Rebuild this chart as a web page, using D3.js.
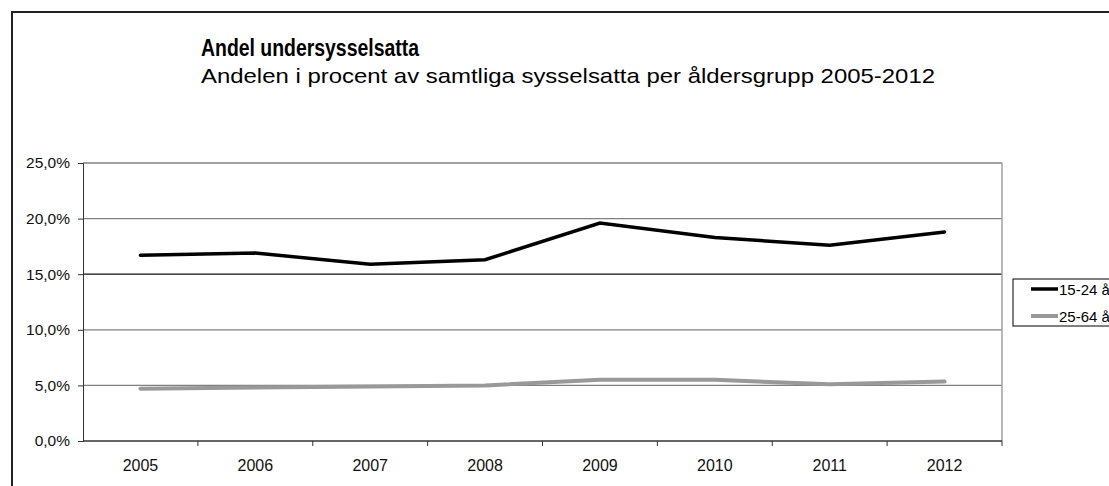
<!DOCTYPE html>
<html>
<head>
<meta charset="utf-8">
<script src="https://cdn.jsdelivr.net/npm/d3@7"></script>
<style>
  body { margin: 0; background: #fff; }
  svg text { font-family: "Liberation Sans", Arial, sans-serif; }
</style>
</head>
<body>
<div id="chart"></div>
<script>
var width = 1109, height = 486;

var years = ["2005", "2006", "2007", "2008", "2009", "2010", "2011", "2012"];
var young = [16.7, 16.9, 15.9, 16.3, 19.6, 18.3, 17.6, 18.8];
var adult = [4.7, 4.8, 4.9, 5.0, 5.5, 5.5, 5.1, 5.35];
var seriesNames = ["15-24 år", "25-64 år"];
var yTicks = [0, 5, 10, 15, 20, 25];

var svg = d3.select('#chart').append('svg')
	.attr('width', width)
	.attr('height', height);

// outer chart frame (runs off the page on the right and bottom)
svg.append('rect')
	.attr('x', 12).attr('y', 12)
	.attr('width', 1200).attr('height', 600)
	.attr('fill', '#fff')
	.attr('stroke', '#222')
	.attr('stroke-width', 2);

var plot = {left: 83, right: 1002, top: 163, bottom: 441};

var x = d3.scaleBand().domain(years).range([plot.left, plot.right]);
var y = d3.scaleLinear().domain([0, 25]).range([plot.bottom, plot.top]);

// gridlines
svg.selectAll('line.grid')
	.data(yTicks.filter(function(d) { return d > 0; }))
	.enter().append('line')
	.attr('class', 'grid')
	.attr('x1', plot.left).attr('x2', plot.right)
	.attr('y1', function(d) { return y(d); })
	.attr('y2', function(d) { return y(d); })
	.attr('stroke', function(d) { return d == 15 ? '#111' : '#808080'; })
	.attr('stroke-width', 1.3);

// right edge of plot area
svg.append('line')
	.attr('x1', plot.right).attr('x2', plot.right)
	.attr('y1', plot.top).attr('y2', plot.bottom)
	.attr('stroke', '#a0a0a0').attr('stroke-width', 1.5);

// y axis
var yAxis = d3.axisLeft(y)
	.tickValues(yTicks)
	.tickSize(5)
	.tickPadding(8)
	.tickFormat(function(d) { return d3.format('.1f')(d).replace('.', ',') + '%'; });

svg.append('g')
	.attr('transform', 'translate(' + plot.left + ',0)')
	.call(yAxis)
	.call(function(g) {
		g.select('.domain').attr('stroke', '#333');
		g.selectAll('.tick line').attr('stroke', '#333');
		g.selectAll('text').attr('font-size', 15.5).attr('fill', '#111')
			.attr('font-family', '"Liberation Sans", Arial, sans-serif');
	});

// x axis, ticks between categories
var xg = svg.append('g');
xg.append('line')
	.attr('x1', plot.left).attr('x2', plot.right)
	.attr('y1', plot.bottom).attr('y2', plot.bottom)
	.attr('stroke', '#333').attr('stroke-width', 1.3);
xg.selectAll('line.xt')
	.data(years)
	.enter().append('line')
	.attr('class', 'xt')
	.attr('x1', function(d) { return x(d) + x.bandwidth(); })
	.attr('x2', function(d) { return x(d) + x.bandwidth(); })
	.attr('y1', plot.bottom).attr('y2', plot.bottom + 5)
	.attr('stroke', '#333');
xg.selectAll('text')
	.data(years)
	.enter().append('text')
	.attr('x', function(d) { return x(d) + x.bandwidth() / 2; })
	.attr('y', plot.bottom + 30)
	.attr('text-anchor', 'middle')
	.attr('font-size', 16)
	.attr('fill', '#111')
	.text(function(d) { return d; });

// lines
var line = d3.line()
	.x(function(d, i) { return x(years[i]) + x.bandwidth() / 2; })
	.y(function(d) { return y(d); });

svg.append('path')
	.datum(adult)
	.attr('d', line)
	.attr('fill', 'none')
	.attr('stroke', '#999')
	.attr('stroke-width', 4)
	.attr('stroke-linecap', 'round');

svg.append('path')
	.datum(young)
	.attr('d', line)
	.attr('fill', 'none')
	.attr('stroke', '#000')
	.attr('stroke-width', 3.5)
	.attr('stroke-linecap', 'round');

// titles
svg.append('text')
	.attr('x', 201).attr('y', 56)
	.attr('font-size', 23)
	.attr('font-weight', 'bold')
	.attr('textLength', 218)
	.attr('lengthAdjust', 'spacingAndGlyphs')
	.text('Andel undersysselsatta');
svg.append('text')
	.attr('x', 201).attr('y', 83)
	.attr('font-size', 21)
	.attr('textLength', 734)
	.attr('lengthAdjust', 'spacingAndGlyphs')
	.text('Andelen i procent av samtliga sysselsatta per åldersgrupp 2005-2012');

// legend
var legend = svg.append('g').attr('transform', 'translate(1013,279)');
legend.append('rect')
	.attr('width', 120).attr('height', 47)
	.attr('fill', '#fff')
	.attr('stroke', '#000').attr('stroke-width', 1);
var colors = ['#000', '#999'];
seriesNames.forEach(function(name, i) {
	legend.append('line')
		.attr('x1', 18).attr('x2', 45)
		.attr('y1', 10 + i * 27).attr('y2', 10 + i * 27)
		.attr('stroke', colors[i])
		.attr('stroke-width', i == 0 ? 3.5 : 4);
	legend.append('text')
		.attr('x', 46).attr('y', 15.5 + i * 27)
		.attr('font-size', 15)
		.text(name);
});
</script>
</body>
</html>
